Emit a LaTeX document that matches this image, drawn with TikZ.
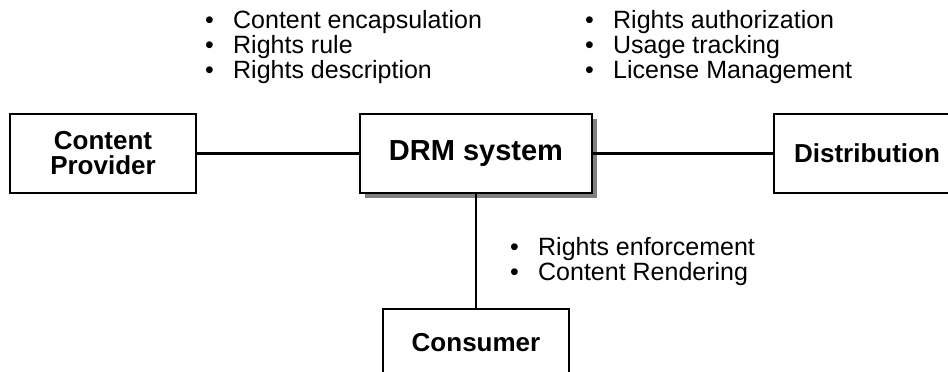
\documentclass[tikz,border=0pt]{standalone}
\usepackage{fontspec}
\setmainfont{Liberation Sans}
\usetikzlibrary{shadows}
\begin{document}
\begin{tikzpicture}[x=1pt,y=-1pt,
  box/.style={draw=black, line width=2.6pt, fill=white, minimum width=186pt, minimum height=79pt, inner sep=0pt, align=center, font=\fontsize{26pt}{26pt}\selectfont\bfseries},
  item/.style={anchor=base west, inner sep=0pt, font=\fontsize{25pt}{25pt}\selectfont},
  link/.style={line width=2.6pt, black}]
\useasboundingbox (0,0) rectangle (948,372);
\clip (0,0) rectangle (948,372);
\fill[white] (0,0) rectangle (948,372);
\node[box, minimum width=232pt, drop shadow={shadow xshift=5pt, shadow yshift=-5pt, fill=black!50, opacity=1}, font=\fontsize{29pt}{29pt}\selectfont\bfseries] (drm) at (476,153.5) {DRM system};
\node[box] (cp) at (103,153.5) {Content\\[-1pt]Provider};
\node[box] (dist) at (867,153.5) {Distribution};
\node[box, minimum height=68pt] (cons) at (476,343) {Consumer};
\draw[link] (cp.east) -- (drm.west);
\draw[link] (drm.east) -- (dist.west);
\draw[link] (drm.south) -- (cons.north);
% lists
\newcommand{\bul}{\makebox[28pt][l]{\textbullet}}
\node[item] (a1) at (205,28) {\bul Content encapsulation};
\node[item] (a2) at (205,53) {\bul Rights rule};
\node[item] (a3) at (205,78) {\bul Rights description};
\node[item] (b1) at (585,28) {\bul Rights authorization};
\node[item] (b2) at (585,53) {\bul Usage tracking};
\node[item] (b3) at (585,78) {\bul License Management};
\node[item] (c1) at (510,255) {\bul Rights enforcement};
\node[item] (c2) at (510,280) {\bul Content Rendering};
\end{tikzpicture}
\end{document}
